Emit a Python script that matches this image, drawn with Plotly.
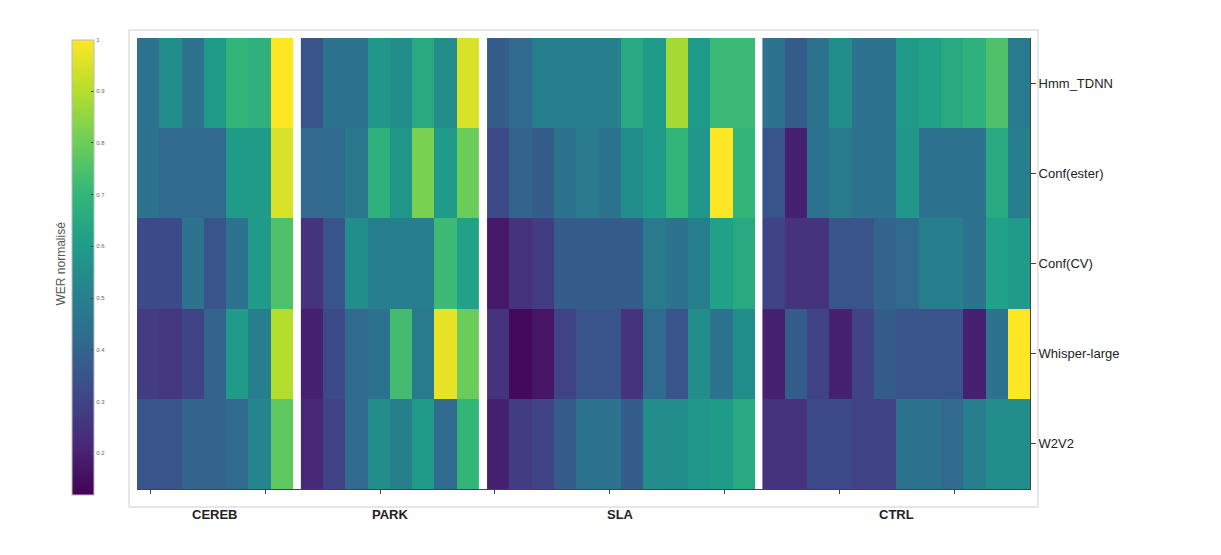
import plotly.graph_objects as go
import plotly.express as px

# Data
# ===================================================
models = ["Hmm_TDNN", "Conf(ester)", "Conf(CV)", "Whisper-large", "W2V2"]
groups = ["CEREB", "PARK", "SLA", "CTRL"]

cereb = [
    [0.45, 0.55, 0.45, 0.60, 0.70, 0.68, 1.00],
    [0.45, 0.42, 0.42, 0.42, 0.60, 0.60, 0.95],
    [0.32, 0.32, 0.45, 0.35, 0.45, 0.60, 0.75],
    [0.28, 0.26, 0.30, 0.40, 0.60, 0.50, 0.90],
    [0.35, 0.35, 0.40, 0.40, 0.42, 0.52, 0.78],
]
park = [
    [0.35, 0.45, 0.45, 0.58, 0.55, 0.65, 0.55, 0.95],
    [0.42, 0.42, 0.47, 0.68, 0.58, 0.82, 0.60, 0.80],
    [0.25, 0.35, 0.55, 0.50, 0.50, 0.50, 0.72, 0.62],
    [0.20, 0.32, 0.42, 0.45, 0.73, 0.48, 0.97, 0.80],
    [0.22, 0.30, 0.42, 0.55, 0.50, 0.60, 0.42, 0.70],
]
sla = [
    [0.38, 0.42, 0.50, 0.50, 0.50, 0.50, 0.65, 0.60, 0.88, 0.60, 0.72, 0.72],
    [0.32, 0.40, 0.38, 0.45, 0.48, 0.45, 0.55, 0.60, 0.70, 0.58, 1.00, 0.70],
    [0.18, 0.25, 0.28, 0.38, 0.38, 0.38, 0.38, 0.48, 0.45, 0.50, 0.62, 0.65],
    [0.25, 0.14, 0.17, 0.30, 0.35, 0.35, 0.25, 0.42, 0.35, 0.55, 0.45, 0.55],
    [0.20, 0.28, 0.30, 0.38, 0.45, 0.45, 0.38, 0.55, 0.55, 0.58, 0.60, 0.65],
]
ctrl = [
    [0.45, 0.38, 0.45, 0.55, 0.45, 0.45, 0.60, 0.62, 0.65, 0.68, 0.75, 0.48],
    [0.35, 0.20, 0.45, 0.48, 0.45, 0.45, 0.58, 0.45, 0.45, 0.45, 0.65, 0.50],
    [0.30, 0.25, 0.25, 0.35, 0.35, 0.40, 0.42, 0.50, 0.50, 0.45, 0.62, 0.60],
    [0.20, 0.38, 0.30, 0.20, 0.30, 0.38, 0.35, 0.35, 0.35, 0.20, 0.45, 1.00],
    [0.25, 0.25, 0.32, 0.32, 0.30, 0.30, 0.45, 0.45, 0.42, 0.50, 0.55, 0.55],
]
cb_ticks = [0.2, 0.3, 0.4, 0.5, 0.6, 0.7, 0.8, 0.9, 1.0]

# Figure
# ===================================================
L, R, T, B = 129, 199, 30, 74
plot_w = 1221 - L - R
plot_h = 555 - T - B
fig = go.Figure()
gap = 0.35
start = 0
centers = []
for i, z in enumerate([cereb, park, sla, ctrl]):
    n = len(z[0])
    edges = [start + k for k in range(n + 1)]
    centers.append(start + n / 2)
    fig.add_trace(go.Heatmap(
        z=z, x=edges, y=models,
        colorscale=px.colors.sequential.Viridis, zmin=0.12, zmax=1.0,
        showscale=(i == 0),
        colorbar=dict(
            x=(64 - L) / plot_w, xanchor="left",
            y=1 - (259 - T) / plot_h, yanchor="middle", len=455 / plot_h,
            thickness=22, xpad=0, ypad=0,
            tickvals=cb_ticks, ticks="inside", ticklen=3,
            tickfont=dict(size=6, color="#666"),
            outlinewidth=1, outlinecolor="#bbb",
        ),
    ))
    start += n + gap
total = start - gap

fig.update_layout(
    width=1221, height=555,
    margin=dict(l=L, r=R, t=T, b=B),
    plot_bgcolor="white", paper_bgcolor="white",
    font=dict(family="Liberation Sans", color="#222"),
    xaxis=dict(
        range=[0, total], showgrid=False, zeroline=False, automargin=False,
        tickvals=[0.6 + 5.15 * k for k in range(8)], ticktext=[""] * 8,
        ticks="outside", ticklen=4, tickcolor="#444",
        showline=True, linecolor="#444", linewidth=1, mirror=False,
    ),
    yaxis=dict(
        side="right", autorange="reversed", showgrid=False, automargin=False,
        ticks="outside", ticklen=5, tickcolor="#444",
        tickfont=dict(size=13), showline=True, linecolor="#444",
    ),
    annotations=[
        dict(text=f"<b>{g}</b>", x=c, xref="x", y=-0.035, yref="paper",
             showarrow=False, font=dict(size=13), yanchor="top")
        for g, c in zip(groups, centers)
    ] + [
        dict(text="WER normalisé", xref="paper", yref="paper",
             x=(43 - L) / plot_w, y=0.5, textangle=-90, showarrow=False,
             font=dict(size=12, color="#555")),
    ],
    shapes=[dict(type="rect", xref="paper", yref="paper",
                 x0=-8 / plot_w, x1=1 + 8 / plot_w,
                 y0=-18 / plot_h, y1=1 + 8 / plot_h,
                 line=dict(color="#ccc", width=1))],
)

fig.write_html("out.html")
